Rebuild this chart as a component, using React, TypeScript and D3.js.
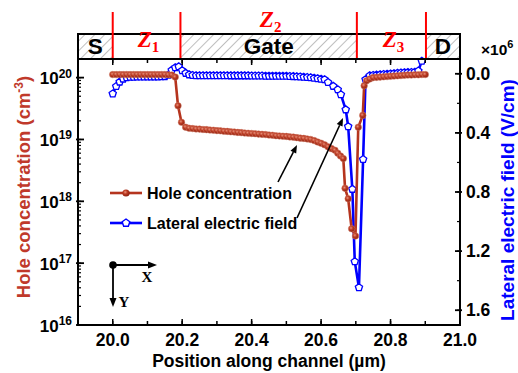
import React from 'react';
import * as d3 from 'd3';

// ---------- data ----------
const holeX = [
  20.00, 20.01, 20.02, 20.03, 20.04, 20.05, 20.06, 20.07, 20.08, 20.09,
  20.10, 20.11, 20.12, 20.13, 20.14, 20.15, 20.16, 20.17, 20.18, 20.188,
  20.198, 20.21, 20.22, 20.23, 20.24, 20.25, 20.26, 20.27, 20.28, 20.29,
  20.30, 20.31, 20.32, 20.33, 20.34, 20.35, 20.36, 20.37, 20.38, 20.39,
  20.40, 20.41, 20.42, 20.43, 20.44, 20.45, 20.46, 20.47, 20.48, 20.49,
  20.50, 20.51, 20.52, 20.53, 20.54, 20.55, 20.56, 20.57, 20.58, 20.59,
  20.60, 20.61, 20.62, 20.63, 20.64, 20.648, 20.656, 20.664, 20.669, 20.678,
  20.688, 20.699, 20.707, 20.72, 20.724, 20.731, 20.74, 20.75, 20.76, 20.77,
  20.78, 20.79, 20.80, 20.81, 20.82, 20.83, 20.84, 20.85, 20.86, 20.87,
  20.88, 20.89, 20.90,
];
const holeConc = [
  1.12e20, 1.12e20, 1.12e20, 1.12e20, 1.12e20, 1.12e20, 1.12e20, 1.12e20, 1.12e20, 1.12e20,
  1.12e20, 1.12e20, 1.12e20, 1.12e20, 1.12e20, 1.12e20, 1.11e20, 1.10e20, 1.02e20, 3.5e19,
  1.9e19, 1.58e19, 1.52e19, 1.50e19, 1.48e19, 1.47e19, 1.45e19, 1.44e19, 1.42e19, 1.41e19,
  1.39e19, 1.38e19, 1.36e19, 1.35e19, 1.33e19, 1.32e19, 1.30e19, 1.29e19, 1.27e19, 1.26e19,
  1.25e19, 1.24e19, 1.22e19, 1.21e19, 1.20e19, 1.18e19, 1.17e19, 1.15e19, 1.14e19, 1.13e19,
  1.12e19, 1.10e19, 1.09e19, 1.07e19, 1.05e19, 1.04e19, 1.02e19, 1.00e19, 9.6e18, 9.1e18,
  8.7e18, 8.2e18, 7.6e18, 7.1e18, 6.7e18, 6.0e18, 5.4e18, 4.9e18, 1.62e18, 1.1e18,
  3.6e17, 2.75e17, 1.58e19, 2.45e19, 7.4e19, 8.9e19, 9.5e19, 1.0e20, 1.01e20, 1.02e20,
  1.03e20, 1.04e20, 1.05e20, 1.06e20, 1.07e20, 1.08e20, 1.09e20, 1.10e20, 1.10e20, 1.11e20,
  1.11e20, 1.12e20, 1.12e20,
];

const fieldX = [
  20.00, 20.01, 20.02, 20.03, 20.04, 20.05, 20.06, 20.07, 20.08, 20.09,
  20.10, 20.11, 20.12, 20.13, 20.14, 20.15, 20.16, 20.17, 20.18, 20.19,
  20.20, 20.21, 20.22, 20.23, 20.24, 20.25, 20.26, 20.27, 20.28, 20.29,
  20.30, 20.31, 20.32, 20.33, 20.34, 20.35, 20.36, 20.37, 20.38, 20.39,
  20.40, 20.41, 20.42, 20.43, 20.44, 20.45, 20.46, 20.47, 20.48, 20.49,
  20.50, 20.51, 20.52, 20.53, 20.54, 20.55, 20.56, 20.57, 20.58, 20.59,
  20.60, 20.61, 20.62, 20.635, 20.648, 20.657, 20.671, 20.678, 20.69, 20.697,
  20.709, 20.721, 20.728, 20.74, 20.75, 20.76, 20.77, 20.78, 20.79, 20.80,
  20.81, 20.82, 20.83, 20.84, 20.85, 20.86, 20.87, 20.88, 20.89,
];
const fieldE = [
  0.135, 0.085, 0.055, 0.035, 0.025, 0.022, 0.022, 0.021, 0.021, 0.021,
  0.020, 0.020, 0.020, 0.020, 0.019, 0.018, 0.008, -0.025, -0.042, -0.048,
  -0.022, -0.004, 0.006, 0.010, 0.012, 0.012, 0.012, 0.012, 0.012, 0.012,
  0.012, 0.012, 0.012, 0.012, 0.013, 0.013, 0.013, 0.013, 0.013, 0.013,
  0.014, 0.014, 0.014, 0.014, 0.015, 0.015, 0.015, 0.015, 0.016, 0.016,
  0.016, 0.017, 0.018, 0.019, 0.020, 0.022, 0.024, 0.026, 0.029, 0.032,
  0.036, 0.039, 0.058, 0.084, 0.107, 0.141, 0.243, 0.357, 0.781, 1.271,
  1.446, 0.579, 0.039, 0.012, 0.010, 0.008, 0.006, 0.004, 0.002, 0.000,
  -0.002, -0.004, -0.006, -0.008, -0.009, -0.010, -0.012, -0.020, -0.086,
];

const xTickValues = [20.0, 20.2, 20.4, 20.6, 20.8, 21.0];
const xTickLabels = ['20.0', '20.2', '20.4', '20.6', '20.8', '21.0'];
const leftTickExps = [16, 17, 18, 19, 20];
const rightTickValues = [0.0, 0.4, 0.8, 1.2, 1.6];
const rightTickLabels = ['0.0', '0.4', '0.8', '1.2', '1.6'];
const zoneBounds = [20.0, 20.195, 20.703, 20.902];
const zoneNames = ['1', '2', '3'];
const bandNames = ['S', 'Gate', 'D'];
const legendLabels = ['Hole concentration', 'Lateral electric field'];

// ---------- styling ----------
const W = 518;
const H = 373;
const L = 78, R = 460, T = 59, B = 325;
const BROWN = '#b5341e';
const TITLE_RED = '#c0392b';
const BLUE = '#0000ff';
const RED = '#ff0000';
const SANS = "'Liberation Sans', Arial, Helvetica, sans-serif";
const SERIF = "'Liberation Serif', 'Times New Roman', serif";

function pentagonPath(cx: number, cy: number, r: number) {
  const pts: string[] = [];
  for (let i = 0; i < 5; i++) {
    const a = -Math.PI / 2 + (i * 2 * Math.PI) / 5;
    pts.push(`${(cx + r * Math.cos(a)).toFixed(2)},${(cy + r * Math.sin(a)).toFixed(2)}`);
  }
  return 'M' + pts.join('L') + 'Z';
}

function Arrow({ x1, y1, x2, y2, w = 1.6, head = 8, hw = 3.2 }: any) {
  const dx = x2 - x1, dy = y2 - y1;
  const len = Math.hypot(dx, dy);
  const ux = dx / len, uy = dy / len;
  const bx = x2 - ux * head, by = y2 - uy * head;
  const px = -uy, py = ux;
  return (
    <g>
      <line x1={x1} y1={y1} x2={bx} y2={by} stroke="#000" strokeWidth={w} />
      <path d={`M${x2},${y2}L${bx + px * hw},${by + py * hw}L${bx - px * hw},${by - py * hw}Z`} fill="#000" />
    </g>
  );
}

export default function App() {
  const x = d3.scaleLinear().domain([19.9, 21.0]).range([L, R]);
  const yL = d3.scaleLog().domain([1e16, 2e20]).range([B, T]);
  const yR = d3.scaleLinear().domain([-0.1, 1.7]).range([T, B]);

  const holeData = holeX.map((v, i) => [v, holeConc[i]] as [number, number]);
  const fieldData = fieldX.map((v, i) => [v, fieldE[i]] as [number, number]);

  const holeLine = d3.line<[number, number]>().x(d => x(d[0])).y(d => yL(d[1]))(holeData) || '';
  const fieldLine = d3.line<[number, number]>().x(d => x(d[0])).y(d => yR(d[1]))(fieldData) || '';

  const xMinor = d3.range(0, 12).map(i => 19.9 + i * 0.1);
  const yLMinor = yL.ticks(40).filter(v => v >= 1e16 && v <= 2e20);
  const yRMinor = d3.range(0, 9).map(i => i * 0.2);

  const zoneX = zoneBounds.map(v => x(v));
  const bandRegions = [
    [x.domain()[0], zoneBounds[0]],
    [zoneBounds[1], zoneBounds[2]],
    [zoneBounds[3], x.domain()[1]],
  ];
  const zoneRegions = [
    [zoneBounds[0], zoneBounds[1]],
    [zoneBounds[1], zoneBounds[2]],
    [zoneBounds[2], zoneBounds[3]],
  ];
  const zoneBaseline = [46.5, 26.5, 46.5];

  const bandTop = 34;

  return (
    <svg width={W} height={H} style={{ position: 'absolute', left: 0, top: 0, background: '#fff' }}
      xmlns="http://www.w3.org/2000/svg">
      <defs>
        <pattern id="hatch" patternUnits="userSpaceOnUse" width="7" height="7" patternTransform="rotate(45)">
          <line x1="0" y1="0" x2="0" y2="7" stroke="#808080" strokeWidth="1" />
        </pattern>
        <radialGradient id="ball" cx="40%" cy="38%" r="62%">
          <stop offset="0%" stopColor="#e9917a" />
          <stop offset="45%" stopColor="#bb3a22" />
          <stop offset="100%" stopColor="#8c2211" />
        </radialGradient>
        <clipPath id="plotclip">
          <rect x={L} y={T - 6} width={R - L} height={B - T + 6} />
        </clipPath>
      </defs>
      <rect x={0} y={0} width={W} height={H} fill="#fff" />

      {/* top band */}
      <rect x={L} y={bandTop} width={R - L} height={T - bandTop} fill="#fff" />
      {bandRegions.map((r, i) => (
        <rect key={'h' + i} x={x(r[0])} y={bandTop} width={x(r[1]) - x(r[0])} height={T - bandTop} fill="url(#hatch)" />
      ))}
      <rect x={L} y={bandTop} width={R - L} height={T - bandTop} fill="none" stroke="#000" strokeWidth={2} />
      {bandRegions.map((r, i) => (
        <text key={'b' + i} x={(x(r[0]) + x(r[1])) / 2} y={54} textAnchor="middle"
          fontFamily={SANS} fontWeight="bold" fontSize={22.5} fill="#000">{bandNames[i]}</text>
      ))}
      {zoneX.map((zx, i) => (
        <line key={'z' + i} x1={zx} x2={zx} y1={12} y2={T} stroke={RED} strokeWidth={2} />
      ))}
      {zoneRegions.map((r, i) => (
        <text key={'zl' + i} x={(x(r[0]) + x(r[1])) / 2 + 2} y={zoneBaseline[i]} textAnchor="middle"
          fontFamily={SERIF} fontStyle="italic" fontWeight="bold" fontSize={23} fill={RED}>
          Z<tspan fontSize={15} dy={5} fontStyle="normal">{zoneNames[i]}</tspan>
        </text>
      ))}

      {/* series */}
      <g clipPath="url(#plotclip)">
        <path d={fieldLine} fill="none" stroke={BLUE} strokeWidth={2.6} strokeLinejoin="round" />
        {fieldData.map((d, i) => (
          <path key={'p' + i} d={pentagonPath(x(d[0]), yR(d[1]), 3.8)} fill="#fff" stroke={BLUE} strokeWidth={1.3} />
        ))}
        <path d={holeLine} fill="none" stroke={BROWN} strokeWidth={2.6} strokeLinejoin="round" />
        {holeData.map((d, i) => (
          <circle key={'c' + i} cx={x(d[0])} cy={yL(d[1])} r={3.3} fill="url(#ball)" stroke="#d9806b" strokeWidth={0.5} />
        ))}
      </g>

      {/* frame */}
      <rect x={L} y={T} width={R - L} height={B - T} fill="none" stroke="#000" strokeWidth={2} />

      {/* x ticks bottom & top */}
      {xMinor.map((v, i) => (
        <g key={'xt' + i}>
          <line x1={x(v)} x2={x(v)} y1={B} y2={B - 4} stroke="#000" strokeWidth={1.5} />
          <line x1={x(v)} x2={x(v)} y1={T} y2={T + 4} stroke="#000" strokeWidth={1.5} />
        </g>
      ))}
      {xTickValues.map((v, i) => (
        <g key={'xM' + i}>
          <line x1={x(v)} x2={x(v)} y1={B} y2={B - 6} stroke="#000" strokeWidth={1.5} />
          <line x1={x(v)} x2={x(v)} y1={T} y2={T + 6} stroke="#000" strokeWidth={1.5} />
          <text x={x(v)} y={346} textAnchor="middle" fontFamily={SANS} fontWeight="bold" fontSize={17.5}>{xTickLabels[i]}</text>
        </g>
      ))}
      <text x={(L + R) / 2} y={367} textAnchor="middle" fontFamily={SANS} fontWeight="bold" fontSize={17.5}>
        Position along channel (µm)
      </text>

      {/* left axis */}
      {yLMinor.map((v, i) => (
        <line key={'ym' + i} x1={L} x2={L + 3} y1={yL(v)} y2={yL(v)} stroke="#000" strokeWidth={1.2} />
      ))}
      {leftTickExps.map((e, i) => (
        <g key={'yl' + i}>
          <line x1={L - 2} x2={L + 6} y1={yL(Math.pow(10, e))} y2={yL(Math.pow(10, e))} stroke="#000" strokeWidth={1.8} />
          <text x={72} y={yL(Math.pow(10, e)) + 6.5} textAnchor="end" fontFamily={SANS} fontWeight="bold" fontSize={17}>
            10<tspan dy={-6.5} fontSize={12}>{e}</tspan>
          </text>
        </g>
      ))}
      <text transform={`translate(30,187) rotate(-90)`} textAnchor="middle" fontFamily={SANS} fontWeight="bold"
        fontSize={18.5} fill={TITLE_RED}>
        Hole concentration (cm<tspan dy={-7} fontSize={12}>-3</tspan><tspan dy={7}>)</tspan>
      </text>

      {/* right axis */}
      {yRMinor.map((v, i) => (
        <line key={'yr' + i} x1={R} x2={R - 3} y1={yR(v)} y2={yR(v)} stroke="#000" strokeWidth={1.2} />
      ))}
      {rightTickValues.map((v, i) => (
        <g key={'yR' + i}>
          <line x1={R - 5} x2={R + 2} y1={yR(v)} y2={yR(v)} stroke="#000" strokeWidth={1.8} />
          <text x={466} y={yR(v) + 6} fontFamily={SANS} fontWeight="bold" fontSize={17.5}>{rightTickLabels[i]}</text>
        </g>
      ))}
      <text x={481} y={55} fontFamily={SANS} fontWeight="bold" fontSize={15.5}>
        ×10<tspan dy={-7} fontSize={11}>6</tspan>
      </text>
      <text transform={`translate(514,200) rotate(-90)`} textAnchor="middle" fontFamily={SANS} fontWeight="bold"
        fontSize={19} fill={BLUE}>
        Lateral electric field (V/cm)
      </text>

      {/* legend */}
      <line x1={110} x2={142} y1={193} y2={193} stroke={BROWN} strokeWidth={2.6} />
      <circle cx={126} cy={193} r={3.6} fill="url(#ball)" />
      <text x={147} y={199} fontFamily={SANS} fontWeight="bold" fontSize={16}>{legendLabels[0]}</text>
      <line x1={110} x2={142} y1={223} y2={223} stroke={BLUE} strokeWidth={2.6} />
      <path d={pentagonPath(126, 223, 4)} fill="#fff" stroke={BLUE} strokeWidth={1.4} />
      <text x={147} y={229} fontFamily={SANS} fontWeight="bold" fontSize={16}>{legendLabels[1]}</text>

      {/* annotation arrows */}
      <Arrow x1={278} y1={182} x2={297} y2={145} />
      <Arrow x1={297} y1={218} x2={343} y2={118} />

      {/* coordinate indicator */}
      <circle cx={113} cy={265} r={3.8} fill="#000" />
      <Arrow x1={113} y1={265} x2={157} y2={265} w={1.8} head={9} hw={3.5} />
      <Arrow x1={113} y1={265} x2={113} y2={307} w={1.8} head={9} hw={3.5} />
      <text x={147} y={282} textAnchor="middle" fontFamily={SERIF} fontWeight="bold" fontSize={15}>X</text>
      <text x={124} y={307} textAnchor="middle" fontFamily={SERIF} fontWeight="bold" fontSize={15}>Y</text>
    </svg>
  );
}
